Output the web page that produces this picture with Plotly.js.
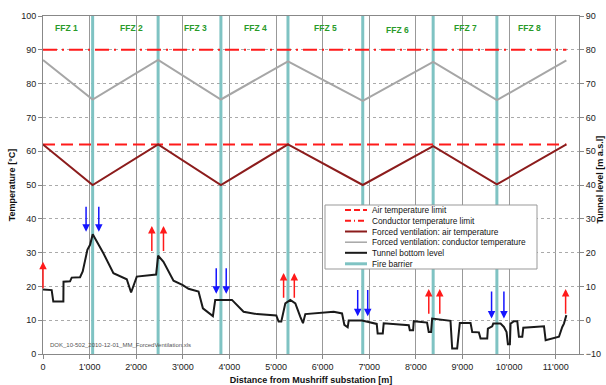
<!DOCTYPE html>
<html><head><meta charset="utf-8">
<script src="https://cdn.plot.ly/plotly-3.0.1.min.js"></script>
<style>html,body{margin:0;padding:0;background:#fff}#c{width:606px;height:385px}</style>
</head><body><div id="c"></div>
<script>
// ---- data ----
const xTickVals = [0,1000,2000,3000,4000,5000,6000,7000,8000,9000,10000,11000];
const xTickText = ["0","1'000","2'000","3'000","4'000","5'000","6'000","7'000","8'000","9'000","10'000","11'000"];

const fireBarriers = [1065, 2470, 3817, 5256, 6860, 8371, 9738];
const zoneLabels = ["FFZ 1","FFZ 2","FFZ 3","FFZ 4","FFZ 5","FFZ 6","FFZ 7","FFZ 8"];
const zoneLabelX = [509, 1906, 3265, 4554, 6058, 7598, 9066, 10447];
const zoneLabelY = [96.5, 96.5, 96.5, 96.5, 96.5, 96.0, 96.5, 96.5];

const tempX = [0, 1065, 2470, 3817, 5256, 6860, 8371, 9738, 11229];
const airTemp = [62, 50, 62, 50, 62, 50, 61.5, 50.2, 62];
const condTemp = [87, 75.3, 87, 75.3, 86.6, 74.9, 86.4, 75.1, 86.9];
const limitX = [0, 11229];
const airLimit = [62, 62];
const condLimit = [90, 90];

const levelX = [0,186,221,437,440,580,616,795,852,952,1010,1067,1296,1511,1797,1890,2012,2370,2427,2470,2585,2800,3000,3122,3337,3431,3645,3695,4054,4303,4590,5005,5055,5113,5199,5306,5414,5521,5578,5628,6237,6416,6466,6537,6559,6845,7060,7160,7180,7290,7310,7813,7848,7870,7941,7955,8240,8276,8327,8349,8743,8779,8886,8943,9173,9209,9352,9388,9531,9545,9638,9660,9817,9889,9946,9975,10017,10032,10104,10176,10211,10283,10305,10534,10749,10784,11070,11141,11177,11229];
const levelY = [9.1,8.9,5.5,5.5,11.4,11.5,12.6,12.7,14.4,20.8,22.3,25.4,19.8,13.9,12.1,8.2,12.9,13.4,13.5,19.1,17.3,11.7,10.4,9.3,8.5,3.5,1.2,6.0,6.0,2.5,1.8,1.4,-0.4,-0.4,5.0,6.0,5.0,1.0,-0.9,1.8,2.5,2.0,-1.4,-2.1,-0.1,-0.1,-0.9,-1.1,-3.9,-3.9,-0.9,-1.4,-1.5,-3.0,-3.0,-0.3,-0.7,-3.5,-3.5,0.5,-0.2,-8.4,-8.4,-0.8,-0.8,-3.5,-3.6,-5.4,-5.4,-2.5,-1.8,-1.0,-1.0,-2.0,-3.5,-7.1,-7.1,-1.0,-0.3,-0.3,-4.9,-4.9,-2.2,-2.0,-1.8,-5.9,-4.9,-2.0,-1.0,1.5];

const redArrowX = [0, 2335, 2585, 5162, 5392, 8277, 8513, 11213];
const redArrowBase = [19, 30, 30, 16.2, 16.2, 11.5, 11.5, 11.5];
const redArrowTip = [27.3, 37.9, 37.9, 24, 24, 19.2, 19.2, 19.2];
const blueArrowX = [924, 1197, 3717, 3931, 6752, 6967, 9624, 9889];
const blueArrowTop = [44, 44, 25.8, 25.8, 19.4, 19.4, 18.9, 18.9];
const blueArrowTip = [36.2, 36.2, 17.8, 17.8, 11.2, 11.2, 10.5, 10.5];

const legendNames = ["Air temperature limit","Conductor temperature limit","Forced ventilation: air temperature","Forced ventilation: conductor temperature","Tunnel bottom level","Fire barrier"];
const fileNote = "DOK_10-502_2010-12-01_MM_ForcedVentilation.xls";
const rightTitle = "Tunnel level [m a.s.l]";

// ---- styles ----
const C_RED = '#ff1a1a', C_AIR = '#8c1c1c', C_COND = '#a6a6a6', C_LEVEL = '#1a1a1a', C_FB = '#7fc3c3';
const legendStyles = [
  {color:C_RED, width:2, dash:'6px,3px'},
  {color:C_RED, width:2, dash:'6px,3px,1px,3px'},
  {color:C_AIR, width:2, dash:'solid'},
  {color:C_COND, width:1.5, dash:'solid'},
  {color:C_LEVEL, width:2, dash:'solid'},
  {color:C_FB, width:3, dash:'solid'}
];

// fire barrier trace built from positions
const fbX = [], fbY = [];
fireBarriers.forEach(b => { fbX.push(b, b, null); fbY.push(0, 100, null); });

const traces = [
  {x: fbX, y: fbY, mode:'lines', line:{color:C_FB, width:3}, showlegend:false, hoverinfo:'skip'},
  {x: limitX, y: condLimit, mode:'lines', line:{color:C_RED, width:2, dash:'14px,5px,2px,5px'}, showlegend:false},
  {x: limitX, y: airLimit, mode:'lines', line:{color:C_RED, width:2, dash:'12px,6px'}, showlegend:false},
  {x: tempX, y: condTemp, mode:'lines', line:{color:C_COND, width:2}, showlegend:false},
  {x: tempX, y: airTemp, mode:'lines', line:{color:C_AIR, width:2}, showlegend:false},
  {x: levelX, y: levelY, yaxis:'y2', mode:'lines', line:{color:C_LEVEL, width:2}, showlegend:false}
];

const plotL = 43, plotR = 579, plotT = 16, plotB = 354;
const px2x = p => (p - plotL) / (plotR - plotL);
const px2y = p => (plotB - p) / (plotB - plotT);

const annotations = [];
const shapes = [];
zoneLabels.forEach((t, i) => annotations.push({x: zoneLabelX[i], y: zoneLabelY[i], xref:'x', yref:'y', text:'<b>'+t+'</b>', showarrow:false, font:{size:8.5, color:'#2a9a2a'}}));
redArrowX.forEach((x, i) => annotations.push({x:x, y:redArrowTip[i], ax:x, ay:redArrowBase[i], xref:'x', yref:'y', axref:'x', ayref:'y', text:'', showarrow:true, arrowhead:2, arrowsize:1, arrowwidth:1.5, arrowcolor:C_RED, standoff:0, startstandoff:0}));
blueArrowX.forEach((x, i) => annotations.push({x:x, y:blueArrowTip[i], ax:x, ay:blueArrowTop[i], xref:'x', yref:'y', axref:'x', ayref:'y', text:'', showarrow:true, arrowhead:2, arrowsize:1, arrowwidth:1.5, arrowcolor:'#1515ff', standoff:0, startstandoff:0}));
annotations.push({x: px2x(48), y: px2y(345), xref:'paper', yref:'paper', xanchor:'left', yanchor:'middle', text:fileNote, showarrow:false, font:{size:6, color:'#555'}});
annotations.push({x: px2x(599.5), y: px2y(180), xref:'paper', yref:'paper', xanchor:'center', yanchor:'middle', textangle:-90, text:'<b>'+rightTitle+'</b>', showarrow:false, font:{size:9, color:'#111'}});

// legend box
shapes.push({type:'rect', xref:'paper', yref:'paper', x0:px2x(325), x1:px2x(537), y0:px2y(269), y1:px2y(205), fillcolor:'#fff', line:{color:'#999', width:1}, layer:'above'});
const rowsY = [210, 220.7, 231.5, 242.2, 252.8, 263.8];
legendNames.forEach((n, i) => {
  shapes.push({type:'line', xref:'paper', yref:'paper', x0:px2x(345), x1:px2x(367), y0:px2y(rowsY[i]), y1:px2y(rowsY[i]), line:legendStyles[i], layer:'above'});
  annotations.push({x:px2x(370), y:px2y(rowsY[i]), xref:'paper', yref:'paper', xanchor:'left', yanchor:'middle', text:n, showarrow:false, font:{size:8.3, color:'#111'}});
});

const layout = {
  width:606, height:385,
  margin:{l:plotL, r:606-plotR, t:plotT, b:385-plotB},
  paper_bgcolor:'#fff', plot_bgcolor:'#fff',
  font:{family:'"Liberation Sans", Arial, sans-serif', size:9, color:'#222'},
  showlegend:false,
  xaxis:{range:[0,11500], tickvals:xTickVals, ticktext:xTickText, showgrid:true, gridcolor:'#999', gridwidth:1,
         zeroline:false, showline:true, linecolor:'#888', mirror:true, ticks:'outside', ticklen:4, tickcolor:'#888',
         title:{text:'<b>Distance from Mushriff substation [m]</b>', font:{size:9, color:'#111'}, standoff:7}},
  yaxis:{range:[0,100], dtick:10, showgrid:true, gridcolor:'#aaa', griddash:'dot', zeroline:false, showline:true,
         linecolor:'#888', ticks:'outside', ticklen:4, tickcolor:'#888', automargin:false,
         title:{text:'<b>Temperature [°C]</b>', font:{size:9, color:'#111'}, standoff:4}},
  yaxis2:{range:[-10,90], dtick:10, overlaying:'y', side:'right', showgrid:false, zeroline:false, showline:true,
          linecolor:'#888', ticks:'outside', ticklen:4, tickcolor:'#888', automargin:false},
  annotations:annotations,
  shapes:shapes
};
Plotly.newPlot('c', traces, layout, {displayModeBar:false, staticPlot:true});
</script></body></html>
